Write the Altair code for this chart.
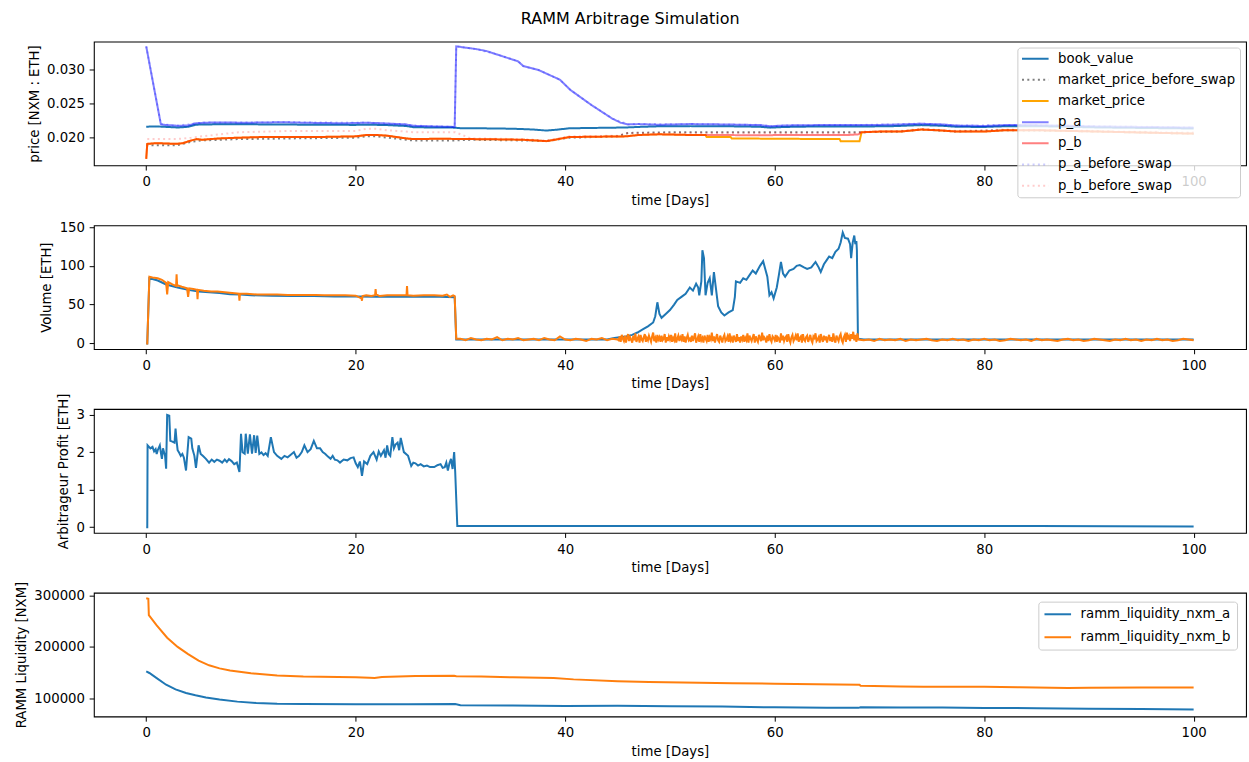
import altair as alt
import pandas as pd

FONT = "DejaVu Sans"
X_TICKS = [0, 20, 40, 60, 80, 100]

# ---------------- panel 1 : prices ----------------
price_series = ["book_value", "market_price_before_swap", "market_price",
                "p_a", "p_b", "p_a_before_swap", "p_b_before_swap"]
price_colors = ["#1f77b4", "rgba(0,0,0,0.5)", "#ffa500", "rgba(0,0,255,0.5)",
                "rgba(255,0,0,0.5)", "rgba(0,0,255,0.2)", "rgba(255,0,0,0.2)"]
price_dash = [[1, 0], [2, 3.3], [1, 0], [1, 0], [1, 0], [2, 3.3], [2, 3.3]]

book_value = [(0, 0.02162), (1, 0.02165), (2, 0.02158), (3, 0.0215), (4, 0.0216), (4.7, 0.0219),
              (5.5, 0.02195), (8, 0.02197), (12, 0.02195), (16, 0.0219), (20, 0.02188), (21, 0.02192),
              (23, 0.02185), (24.8, 0.02172), (25.5, 0.02155), (27, 0.0215), (29.3, 0.02148),
              (30, 0.0214), (32, 0.02138), (35, 0.02132), (37, 0.0212), (38.2, 0.02105), (39, 0.02115),
              (40.4, 0.02138), (42, 0.02142), (45.8, 0.0215), (47, 0.02158), (49, 0.02168), (52, 0.0217),
              (55, 0.02168), (57, 0.02165), (58.6, 0.0216), (59.6, 0.02148), (61, 0.02158), (64, 0.02165),
              (67, 0.02165), (68.5, 0.02165), (71, 0.02168), (74, 0.02185), (76, 0.02175), (77.4, 0.0216),
              (80, 0.02158), (82, 0.02168), (85, 0.0217), (88, 0.0216), (91, 0.0215), (94, 0.02145),
              (97, 0.0214), (100, 0.02135)]

p_a = [(0, 0.0334), (1.4, 0.02195), (2, 0.02185), (3.1, 0.02175), (4, 0.0218), (4.7, 0.0221),
       (5.5, 0.0222), (7, 0.02225), (9, 0.0222), (11, 0.02222), (13, 0.02228), (15, 0.0222),
       (17, 0.02215), (19, 0.02212), (21, 0.0222), (22, 0.02215), (23, 0.02208), (24.8, 0.02195),
       (25.5, 0.02175), (27, 0.02168), (29.45, 0.02158), (29.6, 0.0334), (30.5, 0.0332),
       (31.5, 0.0330), (32.5, 0.0327), (33.5, 0.0322), (34.5, 0.0317), (35.5, 0.0312), (36, 0.0305),
       (36.5, 0.0303), (37.5, 0.0299), (38.5, 0.0292), (39.5, 0.0285), (40.5, 0.0270), (41.5, 0.0259),
       (42.5, 0.0248), (43.5, 0.0238), (44.5, 0.0228), (45.3, 0.0222), (46, 0.02195), (47, 0.022),
       (49, 0.0219), (52, 0.022), (55, 0.02195), (57, 0.0219), (58.6, 0.02185), (59.6, 0.02168),
       (61, 0.0218), (64, 0.02185), (67, 0.02185), (68.5, 0.02185), (71, 0.0219), (74, 0.02205),
       (76, 0.02195), (77.4, 0.02178), (80, 0.02172), (82, 0.02185), (85, 0.02185), (88, 0.02175),
       (91, 0.02165), (94, 0.0216), (97, 0.02155), (100, 0.02148)]

p_a_before_swap = [(0, 0.0334), (1.4, 0.0220), (3.1, 0.02178), (4.7, 0.02212), (5.5, 0.02222),
                   (13, 0.0223), (21, 0.02222), (24.8, 0.02198), (25.5, 0.02178), (29.45, 0.0216),
                   (29.6, 0.0334), (31.5, 0.0330), (33.5, 0.0322), (35.5, 0.0312), (36, 0.0305),
                   (37.5, 0.0299), (38.5, 0.0292), (39.5, 0.0285), (40.5, 0.0270), (42.5, 0.0248),
                   (44.5, 0.0228), (46, 0.0220), (52, 0.02202), (58.6, 0.02188), (59.6, 0.0217),
                   (61, 0.02182), (68.5, 0.02188), (74, 0.02208), (77.4, 0.0218), (82, 0.02188),
                   (88, 0.02178), (94, 0.02163), (100, 0.02152)]

p_b = [(0, 0.0169), (0.1, 0.0191), (1, 0.0192), (2.9, 0.0191), (3.5, 0.0192), (4.3, 0.0196),
       (4.8, 0.0198), (5.3, 0.0197), (7, 0.0199), (8.8, 0.0200), (11, 0.0201), (14, 0.0201),
       (17, 0.02012), (20, 0.0202), (21, 0.0204), (22, 0.0204), (23, 0.0203), (24.8, 0.0199),
       (25.5, 0.0198), (28, 0.01985), (31, 0.0198), (34, 0.01975), (36, 0.0197), (38.2, 0.0195),
       (39, 0.0197), (40.4, 0.0201), (43, 0.02015), (45.8, 0.0202), (47, 0.0204), (49, 0.0205),
       (52, 0.0204), (55, 0.0204), (58, 0.02035), (61, 0.0204), (64, 0.0204), (67, 0.0204),
       (68, 0.0205), (68.3, 0.0208), (70, 0.0209), (72, 0.0209), (74, 0.0212), (75.5, 0.0211),
       (77.4, 0.0209), (80, 0.0209), (82, 0.0211), (85, 0.0211), (88, 0.0210), (91, 0.0209),
       (94, 0.0208), (97, 0.0207), (100, 0.0206)]

market_price = [(0, 0.0169), (0.1, 0.0191), (1, 0.0192), (2.9, 0.0191), (3.5, 0.0192), (4.3, 0.0196),
                (4.8, 0.0198), (5.3, 0.0197), (7, 0.0199), (8.8, 0.0200), (11, 0.0201), (14, 0.0201),
                (17, 0.02012), (20, 0.0202), (21, 0.0204), (22, 0.0204), (23, 0.0203), (24.8, 0.0199),
                (25.5, 0.0198), (28, 0.01985), (31, 0.0198), (34, 0.01975), (36, 0.0197), (38.2, 0.0195),
                (39, 0.0197), (40.4, 0.0201), (43, 0.02015), (45.8, 0.0202), (47, 0.0204), (49, 0.0205),
                (52, 0.0204), (53.4, 0.0204), (53.5, 0.0201), (55.8, 0.0201), (55.9, 0.0199),
                (60, 0.01985), (66.2, 0.0198), (66.3, 0.0195), (68.1, 0.0195), (68.3, 0.0208),
                (70, 0.0209), (72, 0.0209), (74, 0.0212), (75.5, 0.0211), (77.4, 0.0209), (80, 0.0209),
                (82, 0.0211), (85, 0.0211), (88, 0.0210), (91, 0.0209), (94, 0.0208), (97, 0.0207),
                (100, 0.0206)]

market_price_before_swap = [(0, 0.0189), (0.1, 0.0189), (2.9, 0.0189), (4.3, 0.0194), (5.3, 0.0196),
                            (8.8, 0.0198), (14, 0.0199), (20, 0.0200), (21, 0.0202), (22, 0.0202),
                            (24.8, 0.0197), (25.5, 0.0196), (29.5, 0.0196), (31, 0.0197), (36, 0.0196),
                            (38.2, 0.0195), (40.4, 0.0200), (45, 0.0202), (46, 0.0207), (50, 0.0208),
                            (55, 0.0208), (60, 0.0208), (66, 0.0208), (68, 0.0208), (68.3, 0.0208),
                            (72, 0.0209), (74, 0.0212), (77.4, 0.0209), (82, 0.0211), (88, 0.0210),
                            (94, 0.0208), (100, 0.0206)]

p_b_before_swap = [(0.1, 0.0198), (2.9, 0.0198), (4.3, 0.0200), (5.3, 0.0202), (8.8, 0.0208),
                   (14, 0.0210), (20, 0.0210), (21, 0.0213), (22, 0.0213), (23, 0.0211),
                   (24.8, 0.0209), (25.5, 0.0208), (29.5, 0.0208), (31, 0.0199), (36, 0.0198),
                   (38.2, 0.0196), (40.4, 0.0202), (45, 0.0203), (46, 0.0207), (50, 0.0207),
                   (55, 0.0207), (60, 0.0207), (66, 0.0207), (68, 0.0207), (68.3, 0.0209),
                   (72, 0.0210), (74, 0.0213), (77.4, 0.0210), (82, 0.0212), (88, 0.0211),
                   (94, 0.0209), (100, 0.0208)]

price_data = {
    "book_value": book_value,
    "market_price_before_swap": market_price_before_swap,
    "market_price": market_price,
    "p_a": p_a,
    "p_b": p_b,
    "p_a_before_swap": p_a_before_swap,
    "p_b_before_swap": p_b_before_swap,
}

# ---------------- panel 2 : volume ----------------
vol_blue = [(0, 0), (0.1, 0), (0.3, 84), (0.6, 83), (1.1, 81), (1.9, 76), (3, 72), (4, 69), (5, 67),
            (6, 66), (7, 65), (8, 63.5), (9, 63), (10, 62), (12, 61.5), (14, 61), (16, 61), (18, 60.5),
            (20, 60.5), (22, 60), (24, 60), (26, 60), (28, 60), (29.45, 59.5), (29.6, 5), (32, 5),
            (36, 5), (40, 5), (44, 5), (44.7, 7), (45.2, 8), (45.8, 9), (46.4, 11), (46.9, 14),
            (47.4, 18), (47.9, 22), (48.4, 27), (48.6, 35), (48.8, 53), (49.0, 38), (49.2, 33),
            (49.6, 38), (50.0, 43), (50.4, 50), (50.7, 56), (51.1, 60), (51.5, 64), (51.9, 72),
            (52.2, 68), (52.5, 77), (52.7, 72), (52.8, 62), (53.0, 80), (53.1, 120), (53.25, 110),
            (53.4, 62), (53.6, 78), (53.8, 84), (54.0, 62), (54.2, 92), (54.4, 70), (54.6, 48),
            (54.9, 40), (55.2, 36), (55.6, 40), (56.0, 43), (56.2, 60), (56.3, 80), (56.7, 78),
            (57.0, 84), (57.3, 82), (57.6, 88), (57.9, 94), (58.2, 90), (58.6, 100), (58.9, 106),
            (59.1, 96), (59.3, 86), (59.5, 62), (59.7, 66), (59.9, 58), (60.2, 72), (60.4, 88),
            (60.6, 105), (60.8, 90), (61.0, 86), (61.4, 94), (61.8, 96), (62.1, 100), (62.4, 101),
            (62.8, 98), (63.1, 96), (63.5, 98), (63.9, 105), (64.2, 98), (64.4, 92), (64.7, 102),
            (65.0, 108), (65.2, 112), (65.5, 110), (65.8, 118), (66.1, 122), (66.3, 130), (66.5, 143),
            (66.7, 136), (67.0, 135), (67.2, 128), (67.3, 110), (67.45, 130), (67.6, 139), (67.7, 128),
            (67.8, 132), (67.85, 120), (67.95, 6), (68.5, 5), (75, 5), (100, 5)]

vol_orange_head = [(0, 0), (0.1, 0), (0.3, 86), (0.6, 85), (1.1, 84), (1.5, 82), (1.9, 78), (2.0, 63),
                   (2.1, 79), (2.5, 76), (2.85, 74), (2.9, 89), (2.95, 75), (3.4, 73), (3.9, 71),
                   (4.0, 60), (4.1, 71), (4.5, 70), (4.85, 69), (4.9, 57), (4.95, 69), (5.5, 68),
                   (6.2, 67), (6.8, 67), (7.5, 66), (8.2, 65), (8.85, 64), (8.9, 55), (8.95, 64),
                   (9.6, 64), (10.6, 63), (11.5, 63), (12.5, 63), (13.5, 62.5), (14.5, 62.5),
                   (15.5, 62.5), (16.2, 62.5), (17, 62), (18, 62), (19, 62), (20, 61.5), (20.55, 58),
                   (20.6, 55), (20.65, 61), (21, 62), (21.5, 61), (21.85, 62), (21.9, 70), (21.95, 63),
                   (22.3, 61), (23, 62), (23.8, 62), (24.85, 62), (24.9, 74), (24.95, 62), (25.5, 61.5),
                   (26.5, 62), (27.5, 62), (28.3, 61.5), (28.7, 63), (29.0, 60), (29.3, 62), (29.45, 61),
                   (29.6, 6)]
# sampled every 0.5 day from day 30
vol_orange_30_45 = [6, 4, 7, 5, 4, 6, 5, 8,
                    4, 6, 5, 7, 4, 5, 6, 4,
                    7, 5, 4, 9, 5, 4, 6, 5,
                    3, 6, 5, 7, 4, 6, 5]
# sampled every 0.1 day from day 45.1
vol_orange_45_68 = [4, 9, 2, 11, 6, 3, 10, 1, 7, 12,
                    3, 8, 5, 1, 10, 4, 13, 2, 6, 9,
                    1, 11, 5, 3, 8, 12, 2, 7, 4, 10,
                    6, 2, 9, 14, 3, 7, 1, 11, 5, 8,
                    2, 10, 4, 6, 12, 1, 8, 3, 9, 5,
                    11, 2, 7, 4, 13, 1, 6, 10, 3, 8,
                    5, 12, 2, 9, 1, 7, 11, 4, 6, 2,
                    10, 3, 8, 13, 1, 5, 9, 2, 12, 4,
                    7, 1, 10, 6, 3, 11, 2, 8, 5, 14,
                    3, 9, 1, 7, 12, 4, 2, 10, 6, 1,
                    8, 11, 3, 5, 9, 2, 13, 4, 7, 1,
                    10, 6, 2, 12, 3, 8, 1, 9, 5, 11,
                    2, 7, 4, 13, 1, 10, 6, 3, 8, 12,
                    1, 9, 5, 2, 11, 7, 3, 14, 4, 8,
                    6, 1, 10, 3, 12, 5, 2, 9, 7, 4,
                    11, 2, 8, 6, 1, 13, 4, 10, 3, 7,
                    9, 2, 12, 5, 1, 8, 11, 3, 6, 10,
                    4, 13, 2, 7, 9, 1, 12, 5, 3, 8,
                    10, 2, 6, 11, 4, 1, 9, 7, 13, 3,
                    5, 8, 1, 12, 6, 2, 10, 4, 9, 1,
                    7, 11, 3, 8, 2, 13, 5, 1, 10, 6,
                    3, 9, 12, 4, 1, 8, 11, 2, 14, 5,
                    9, 3, 12, 6, 15, 4, 11, 2, 13, 5]
# sampled every 0.5 day from day 68.5
vol_orange_68_100 = [4, 5, 3, 6, 4, 5, 4, 6,
                     3, 5, 4, 5, 6, 4, 3, 5,
                     4, 6, 4, 5, 3, 5, 4, 6,
                     4, 5, 3, 4, 6, 5, 4, 5,
                     3, 6, 4, 5, 4, 3, 5, 6,
                     4, 5, 3, 4, 6, 5, 4, 3,
                     5, 4, 6, 4, 5, 3, 5, 4,
                     6, 4, 5, 3, 4, 6, 5, 4]

# ---------------- panel 3 : arbitrageur profit ----------------
profit = [(0, 0), (0.1, 0), (0.13, 2.18), (0.4, 2.1), (0.6, 2.14), (0.75, 2.02), (0.9, 2.08),
          (1.0, 1.95), (1.1, 2.05), (1.3, 2.18), (1.4, 1.98),
          (1.5, 1.82), (1.6, 2.1), (1.8, 1.9), (1.9, 1.56), (2.0, 2.99), (2.2, 2.97), (2.3, 2.3),
          (2.5, 2.28), (2.7, 2.25), (2.8, 2.63), (2.9, 2.3), (3.0, 2.05), (3.15, 1.98), (3.3, 1.9),
          (3.45, 1.95), (3.6, 1.85), (3.8, 1.51),
          (4.05, 2.4), (4.3, 2.36), (4.4, 2.1), (4.6, 1.9), (4.75, 1.58), (5.0, 2.18), (5.2, 1.95),
          (5.4, 1.9), (5.7, 1.82), (6.0, 1.72), (6.25, 1.8), (6.5, 1.74), (6.75, 1.8), (7.0, 1.77),
          (7.25, 1.72), (7.5, 1.8), (7.7, 1.74), (7.9, 1.81), (8.15, 1.76), (8.4, 1.68), (8.65, 1.72),
          (8.9, 1.47), (9.05, 2.49), (9.2, 2.0), (9.4, 1.96), (9.5, 2.49), (9.7, 1.96), (9.9, 2.47),
          (10.1, 1.96), (10.3, 2.45), (10.45, 1.98), (10.6, 2.44), (10.8, 1.95), (11.0, 1.99),
          (11.2, 1.92), (11.4, 1.97), (11.6, 1.9), (11.9, 2.4), (12.2, 2.0), (12.5, 1.9), (12.9, 1.82),
          (13.2, 1.9), (13.5, 1.86), (13.8, 1.93), (14.1, 2.0), (14.35, 1.85), (14.6, 1.9),
          (14.85, 2.0), (15.1, 2.18), (15.4, 2.0), (15.7, 2.08), (16.0, 2.3), (16.3, 2.1),
          (16.6, 2.1), (16.85, 2.0), (17.1, 1.95), (17.35, 1.88), (17.6, 1.82), (17.8, 1.9),
          (18.0, 1.8), (18.25, 1.78), (18.5, 1.72), (18.85, 1.8), (19.2, 1.78), (19.5, 1.84),
          (19.8, 1.86), (20.0, 1.7), (20.2, 1.6), (20.4, 1.75), (20.6, 1.37),
          (20.8, 1.75), (21.1, 1.68), (21.4, 1.9), (21.7, 2.0), (22.0, 1.8), (22.2, 2.02), (22.4, 1.9),
          (22.7, 2.05), (22.85, 1.85), (23.0, 2.18), (23.15, 1.95), (23.3, 1.9), (23.5, 2.4), (23.65, 2.1),
          (23.8, 2.2), (24.0, 2.25), (24.15, 2.05), (24.3, 2.38), (24.6, 2.0),
          (25.0, 1.9), (25.3, 1.63), (25.5, 1.72), (25.7, 1.7), (25.95, 1.64), (26.2, 1.68),
          (26.5, 1.62), (26.8, 1.64), (27.1, 1.6), (27.5, 1.6), (27.8, 1.65),
          (28.1, 1.68), (28.3, 1.58), (28.5, 1.6), (28.65, 1.72), (28.8, 1.51), (28.95, 1.7),
          (29.1, 1.82), (29.25, 1.55), (29.4, 2.0),
          (29.5, 1.47), (29.7, 0.03), (35, 0.03), (45, 0.03), (55, 0.03), (65, 0.03), (75, 0.03),
          (85, 0.03), (100, 0.02)]

# ---------------- panel 4 : RAMM liquidity ----------------
liq_series = ["ramm_liquidity_nxm_a", "ramm_liquidity_nxm_b"]
liq_colors = ["#1f77b4", "#ff7f0e"]
liq_a = [(0, 152000), (0.3, 149000), (1, 139000), (1.9, 126000), (2.8, 117000), (3.8, 110000),
         (4.7, 105500), (5.7, 101000), (7, 97000), (8.7, 93000), (10.5, 90500), (12.5, 89000),
         (15, 88300), (20, 88000), (25, 88000), (29.5, 88500), (30, 86000), (35, 85200),
         (40, 84500), (45, 84800), (50, 84200), (55, 83500), (60, 81800), (65, 81200), (68, 80800),
         (68.2, 81800), (72, 81500), (76, 81300), (80, 80500), (85, 80200), (90, 79200),
         (95, 78400), (100, 77500)]
liq_b = [(0, 295000), (0.2, 294000), (0.25, 262000), (1, 242000), (2, 218000), (3, 200000),
         (4, 186000), (5, 173000), (6, 164000), (7, 158000), (8, 154000), (10, 148500),
         (12.5, 144000), (15, 142000), (20, 140500), (21.3, 139500), (21.8, 139000), (22.5, 141000),
         (25.7, 143000), (29.4, 143500), (29.6, 142500), (32, 142000), (35, 140500), (38.9, 139000),
         (40.8, 136500), (45, 133000), (48, 131500), (52.8, 129800), (56, 129000), (60, 128000),
         (64, 127000), (68.1, 126000), (68.2, 124000), (72, 122800), (74.2, 122300), (80, 122000),
         (83.4, 121200), (88, 119500), (90, 120200), (95, 120500), (100, 120800)]


def pairs_df(pairs, name):
    return pd.DataFrame(pairs, columns=["t", "v"]).assign(series=name)


W, H = 1154, 124


def x_enc():
    return alt.X("t:Q", scale=alt.Scale(domain=[-5, 105], nice=False, zero=False),
                 axis=alt.Axis(values=X_TICKS, format="d", title="time [Days]"))


def y_enc(domain, values, fmt, title):
    return alt.Y("v:Q", scale=alt.Scale(domain=domain, nice=False, zero=False),
                 axis=alt.Axis(values=values, format=fmt, title=title))


def make_legend(offset, row_pad, pad):
    return alt.Legend(title=None, orient="top-right", offset=offset, padding=pad,
                      fillColor="rgba(255,255,255,0.8)", strokeColor="#cccccc", cornerRadius=3,
                      symbolType="M-1,0H3.84", symbolSize=121, symbolStrokeWidth=2, symbolOffset=-1,
                      labelOffset=24, rowPadding=row_pad, labelFontSize=13.3, labelFont=FONT,
                      labelColor="black", labelLimit=400, zindex=1)


# panel 1
price_df = pd.concat([pairs_df(price_data[s], s) for s in price_series], ignore_index=True)
leg1 = make_legend(6, 7.2, 4.5)
base1 = alt.Chart(price_df).mark_line(strokeWidth=2, clip=True).encode(
    x=x_enc(),
    y=y_enc([0.01595, 0.0341], [0.020, 0.025, 0.030], ".3f", "price [NXM : ETH]"),
    color=alt.Color("series:N", scale=alt.Scale(domain=price_series, range=price_colors), legend=leg1),
    strokeDash=alt.StrokeDash("series:N", scale=alt.Scale(domain=price_series, range=price_dash), legend=leg1),
)
p1 = alt.layer(*[base1.transform_filter(alt.datum.series == s) for s in price_series]).properties(width=W, height=H)

# panel 2
vol_orange = list(vol_orange_head)
vol_orange += [(30 + 0.5 * i, v) for i, v in enumerate(vol_orange_30_45)]
vol_orange += [(45.1 + 0.1 * i, v) for i, v in enumerate(vol_orange_45_68)]
vol_orange += [(68.5 + 0.5 * i, v) for i, v in enumerate(vol_orange_68_100)]
y2 = y_enc([-7.3, 152.3], [0, 50, 100, 150], "d", "Volume [ETH]")
p2 = alt.layer(
    alt.Chart(pairs_df(vol_blue, "a")).mark_line(strokeWidth=2, color="#1f77b4", clip=True).encode(x=x_enc(), y=y2),
    alt.Chart(pairs_df(vol_orange, "b")).mark_line(strokeWidth=2, color="#ff7f0e", clip=True).encode(x=x_enc(), y=y2),
).properties(width=W, height=H)

# panel 3
p3 = alt.Chart(pairs_df(profit, "profit")).mark_line(strokeWidth=2, color="#1f77b4", clip=True).encode(
    x=x_enc(), y=y_enc([-0.15, 3.15], [0, 1, 2, 3], "d", "Arbitrageur Profit [ETH]")
).properties(width=W, height=H)

# panel 4
liq_df = pd.concat([pairs_df(liq_a, liq_series[0]), pairs_df(liq_b, liq_series[1])], ignore_index=True)
base4 = alt.Chart(liq_df).mark_line(strokeWidth=2, clip=True).encode(
    x=x_enc(),
    y=y_enc([64000, 306000], [100000, 200000, 300000], "d", "RAMM Liquidity [NXM]"),
    color=alt.Color("series:N", scale=alt.Scale(domain=liq_series, range=liq_colors),
                    legend=make_legend(9, 9, 6)),
)
p4 = alt.layer(*[base4.transform_filter(alt.datum.series == s) for s in liq_series]).properties(width=W, height=H)

chart = alt.vconcat(p1, p2, p3, p4, spacing=60, bounds="flush").resolve_scale(
    x="independent", y="independent", color="independent", strokeDash="independent"
).resolve_legend(color="independent", strokeDash="independent").properties(
    title=alt.TitleParams("RAMM Arbitrage Simulation", fontSize=16, fontWeight="normal", font=FONT,
                          anchor="middle", offset=14, color="black"),
    padding={"left": 14, "top": 10, "right": 2, "bottom": 4},
).configure(font=FONT).configure_view(stroke="black", strokeWidth=1.07).configure_axis(
    labelFont=FONT, titleFont=FONT, labelFontSize=13.3, titleFontSize=13.3, titleFontWeight="normal",
    labelColor="black", titleColor="black", grid=False, domain=False, tickColor="black",
    tickSize=4.7, tickWidth=1, labelPadding=4.7, titlePadding=5.3, labelFlush=False,
)

chart.save("out.html", embed_options={"renderer": "svg", "actions": False})
